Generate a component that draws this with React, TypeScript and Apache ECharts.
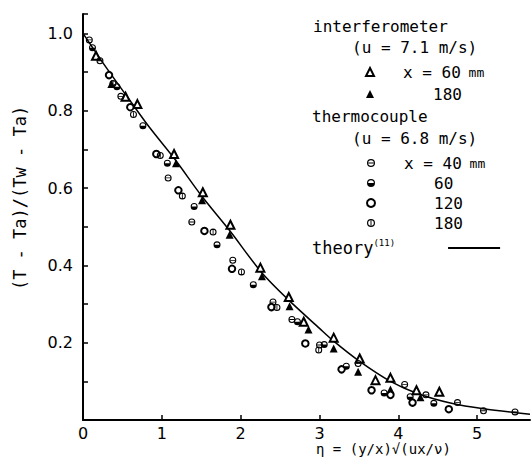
import React, { useEffect, useRef } from "react";
import * as echarts from "echarts";

// Interferometer (u = 7.1 m/s)
const interf60: [number, number][] = [
  [0.165, 0.942], [0.54, 0.836], [0.69, 0.817], [1.155, 0.688], [1.52, 0.589],
  [1.87, 0.505], [2.25, 0.394], [2.61, 0.318], [2.8, 0.254], [3.18, 0.213],
  [3.51, 0.159], [3.71, 0.103], [3.9, 0.109], [4.23, 0.077], [4.52, 0.073],
];
const interf180: [number, number][] = [
  [0.36, 0.869], [1.18, 0.664], [1.51, 0.568], [1.86, 0.479], [2.27, 0.372],
  [2.62, 0.294], [2.86, 0.234], [3.18, 0.185], [3.49, 0.125], [3.9, 0.079], [4.28, 0.059],
];
// Thermocouple (u = 6.8 m/s)
const thermo40: [number, number][] = [
  [0.08, 0.983], [0.215, 0.929], [0.48, 0.837], [1.08, 0.626], [1.38, 0.512],
  [1.9, 0.413], [2.41, 0.305], [2.65, 0.26], [3.0, 0.194], [3.49, 0.146],
  [4.08, 0.092], [4.35, 0.065], [4.75, 0.045], [5.08, 0.024], [5.48, 0.021],
];
const thermo60: [number, number][] = [
  [0.12, 0.963], [0.43, 0.862], [0.76, 0.761], [1.07, 0.664], [1.41, 0.552],
  [1.7, 0.453], [2.16, 0.35], [2.72, 0.254], [3.06, 0.195], [3.34, 0.139],
  [3.82, 0.07], [4.15, 0.06], [4.45, 0.043],
];
const thermo120: [number, number][] = [
  [0.33, 0.892], [0.6, 0.809], [0.93, 0.688], [1.21, 0.594], [1.54, 0.489],
  [1.89, 0.391], [2.39, 0.292], [2.82, 0.198], [3.28, 0.131], [3.66, 0.077],
  [3.9, 0.065], [4.18, 0.045], [4.64, 0.028],
];
const thermo180: [number, number][] = [
  [0.38, 0.87], [0.64, 0.79], [0.98, 0.684], [1.26, 0.579], [1.65, 0.486],
  [2.01, 0.383], [2.46, 0.291], [2.99, 0.181],
];
// Theory curve
const theoryX = [0, 0.3, 0.6, 0.85, 1.17, 1.51, 1.86, 2.26, 2.61, 3.0, 3.18, 3.5, 3.9, 4.25, 4.66, 5.08, 5.67];
const theoryY = [1.0, 0.91, 0.825, 0.755, 0.673, 0.578, 0.49, 0.383, 0.31, 0.237, 0.204, 0.153, 0.1, 0.068, 0.044, 0.029, 0.015];

const xTicks = [0, 1, 2, 3, 4, 5];
const yTickLabels = ["0.2", "0.4", "0.6", "0.8", "1.0"];

const RING_OUT = "M0,10 A10,10 0 1,0 20,10 A10,10 0 1,0 0,10 Z ";
const RING_IN = "M3,10 A7,7 0 1,1 17,10 A7,7 0 1,1 3,10 Z ";
const SYM_THETA = "path://" + RING_OUT + RING_IN + "M3.5,8.8 L3.5,11.2 L16.5,11.2 L16.5,8.8 Z";
const SYM_PHI = "path://" + RING_OUT + RING_IN + "M8.8,3.5 L8.8,16.5 L11.2,16.5 L11.2,3.5 Z";
const SYM_HALF = "path://" + RING_OUT + "M3,10 A7,7 0 0,1 17,10 Z";

const MONO = "DejaVu Sans Mono";
const SANS = "DejaVu Sans";

const legendText: Record<string, string> = {
  i60: "{s1| }x = 60{u| mm}",
  i180: "{s2| }180",
  t40: "{s1| }x = 40{u| mm}",
  t60: "{s2| }60",
  t120: "{s2| }120",
  t180: "{s2| }180",
  theory: "theory{sup|(11)}{g| }",
};

const rich = {
  s1: { width: 24 },
  s2: { width: 54 },
  u: { fontSize: 13, fontFamily: MONO, color: "#000" },
  sup: { fontSize: 9, fontFamily: MONO, color: "#000", verticalAlign: "top", padding: [0, 0, 10, 0] },
  g: { width: 48 },
};

export default function App() {
  const ref = useRef<HTMLDivElement>(null);
  useEffect(() => {
    if (!ref.current) return;
    const chart = echarts.init(ref.current, undefined, { renderer: "svg" });
    const scatter = (name: string, data: [number, number][], symbol: string, size: number) => ({
      name,
      type: "scatter",
      data,
      symbol,
      symbolSize: size,
      itemStyle: { color: "#000", borderColor: "#000", borderWidth: symbol.startsWith("empty") ? 1 : 0, opacity: 1 },
      z: 3,
    });
    const legendBase = {
      orient: "vertical",
      padding: 0,
      itemWidth: 8,
      itemHeight: 8,
      selectedMode: false,
      formatter: (n: string) => legendText[n] ?? n,
      textStyle: { fontFamily: MONO, fontSize: 16, color: "#000", lineHeight: 20, rich },
    };
    chart.setOption({
      animation: false,
      backgroundColor: "#fff",
      grid: { left: 83, right: 2, top: 14, bottom: 37, containLabel: false },
      xAxis: {
        type: "value",
        min: 0,
        max: 5.67,
        interval: 1,
        axisLine: { lineStyle: { color: "#000", width: 2 } },
        axisTick: { inside: true, length: 5, lineStyle: { color: "#000", width: 1.5 } },
        axisLabel: {
          color: "#000",
          fontFamily: SANS,
          fontSize: 16,
          margin: 5,
          showMaxLabel: false,
          formatter: (v: number) => {
            const t = xTicks.find((k) => Math.abs(k - v) < 1e-6);
            return t === undefined ? "" : String(t);
          },
        },
        splitLine: { show: false },
      },
      yAxis: {
        type: "value",
        min: 0,
        max: 1.05,
        interval: 0.1,
        axisLine: { lineStyle: { color: "#000", width: 2 } },
        axisTick: { inside: true, length: 5, lineStyle: { color: "#000", width: 1.5 } },
        axisLabel: {
          color: "#000",
          fontFamily: SANS,
          fontSize: 16,
          margin: 10,
          formatter: (v: number) => {
            const k = Math.round(v * 10);
            if (k % 2 !== 0 || k === 0 || k > 10) return "";
            return yTickLabels[k / 2 - 1];
          },
        },
        splitLine: { show: false },
      },
      legend: [
        { ...legendBase, data: ["i60", "i180"], left: 365, top: 62, itemGap: 2 },
        { ...legendBase, data: ["t40", "t60", "t120", "t180"], left: 366, top: 153, itemGap: 0 },
        {
          ...legendBase,
          data: ["theory"],
          left: 312,
          top: 238,
          align: "right",
          itemWidth: 52,
          itemHeight: 2,
          textStyle: { fontFamily: MONO, fontSize: 17, color: "#000", lineHeight: 20, rich },
        },
      ],
      graphic: [
        { type: "text", left: 313, top: 18, style: { text: "interferometer", font: `16px "${MONO}"`, fill: "#000" } },
        { type: "text", left: 352, top: 39, style: { text: "(u = 7.1 m/s)", font: `16px "${MONO}"`, fill: "#000" } },
        { type: "text", left: 312, top: 108, style: { text: "thermocouple", font: `16px "${MONO}"`, fill: "#000" } },
        { type: "text", left: 352, top: 130, style: { text: "(u = 6.8 m/s)", font: `16px "${MONO}"`, fill: "#000" } },
        { type: "text", left: 316, top: 442, style: { text: "η = (y/x)√(ux/ν)", font: `14px "${MONO}"`, fill: "#000" } },
        {
          type: "text",
          x: 20,
          y: 198,
          rotation: Math.PI / 2,
          style: {
            text: "(T - Ta)/(Tw - Ta)",
            font: `17px "${MONO}"`,
            fill: "#000",
            align: "center",
            verticalAlign: "middle",
          },
        },
      ],
      series: [
        {
          name: "theory",
          type: "line",
          data: theoryX.map((x, i) => [x, theoryY[i]]),
          smooth: 0.3,
          symbol: "none",
          lineStyle: { color: "#000", width: 1.5 },
          itemStyle: { color: "#000" },
          z: 2,
        },
        scatter("i60", interf60, "emptyTriangle", 8),
        scatter("i180", interf180, "triangle", 8),
        scatter("t40", thermo40, SYM_THETA, 7),
        scatter("t60", thermo60, SYM_HALF, 7),
        scatter("t120", thermo120, "emptyCircle", 6.5),
        scatter("t180", thermo180, SYM_PHI, 7),
      ],
    });
    return () => chart.dispose();
  }, []);
  return <div ref={ref} style={{ width: 532, height: 457, position: "absolute", left: 0, top: 0 }} />;
}
